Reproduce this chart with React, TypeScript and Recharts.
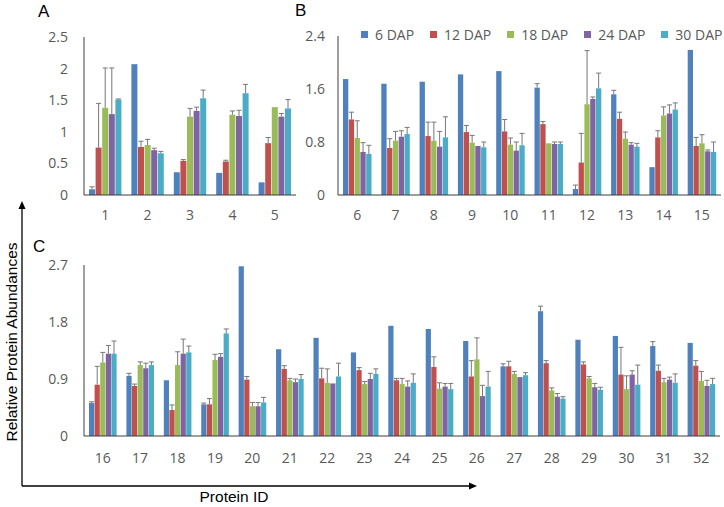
import React from 'react';
import { BarChart, Bar, XAxis, YAxis } from 'recharts';

// Protein IDs 1..32
const PROTEIN_IDS = ['1','2','3','4','5','6','7','8','9','10','11','12','13','14','15','16','17','18','19','20','21','22','23','24','25','26','27','28','29','30','31','32'];

const SERIES_NAMES = ['6 DAP', '12 DAP', '18 DAP', '24 DAP', '30 DAP'];
const SERIES_COLORS = ['#4F81BD', '#C0504D', '#9BBB59', '#8064A2', '#4BACC6'];

// Mean relative abundances per protein (index = protein id - 1)
const DAP6 = [0.09, 2.07, 0.36, 0.35, 0.20, 1.75, 1.68, 1.71, 1.82, 1.87, 1.62, 0.09, 1.52, 0.42, 2.19, 0.52, 0.95, 0.88, 0.50, 2.68, 1.37, 1.55, 1.32, 1.74, 1.69, 1.50, 1.10, 1.97, 1.52, 1.58, 1.42, 1.47];
const DAP12 = [0.75, 0.76, 0.54, 0.53, 0.82, 1.14, 0.71, 0.89, 0.95, 0.96, 1.07, 0.49, 1.15, 0.87, 0.74, 0.81, 0.79, 0.41, 0.50, 0.89, 1.06, 0.91, 1.04, 0.88, 1.09, 0.94, 1.10, 1.15, 1.13, 0.97, 1.03, 1.11];
const DAP18 = [1.38, 0.79, 1.24, 1.27, 1.39, 0.86, 0.82, 0.82, 0.79, 0.76, 0.78, 1.37, 0.85, 1.20, 0.78, 1.16, 1.12, 1.12, 1.20, 0.47, 0.88, 0.84, 0.82, 0.82, 0.75, 1.21, 0.98, 0.72, 0.91, 0.74, 0.85, 0.87];
const DAP24 = [1.28, 0.71, 1.33, 1.25, 1.24, 0.65, 0.88, 0.73, 0.74, 0.67, 0.77, 1.45, 0.76, 1.23, 0.66, 1.30, 1.07, 1.30, 1.25, 0.47, 0.85, 0.83, 0.90, 0.78, 0.78, 0.63, 0.93, 0.62, 0.77, 0.97, 0.89, 0.79];
const DAP30 = [1.51, 0.66, 1.53, 1.61, 1.37, 0.62, 0.92, 0.87, 0.72, 0.75, 0.77, 1.61, 0.73, 1.29, 0.65, 1.30, 1.12, 1.32, 1.62, 0.53, 0.90, 0.94, 0.98, 0.84, 0.74, 0.78, 0.96, 0.59, 0.73, 0.81, 0.84, 0.82];

// Upper error (standard deviation) per protein
const ERR6 = [0.04, 0, 0, 0, 0, 0, 0, 0, 0, 0, 0.06, 0.06, 0.06, 0, 0, 0.02, 0.04, 0, 0.02, 0, 0, 0, 0, 0, 0, 0, 0.04, 0.08, 0, 0, 0.07, 0];
const ERR12 = [0.70, 0.09, 0.02, 0.02, 0.09, 0.11, 0.14, 0.21, 0.10, 0.18, 0.04, 0.44, 0.10, 0.10, 0.13, 0.29, 0.03, 0.08, 0.09, 0.05, 0.05, 0.16, 0.04, 0.03, 0.16, 0.25, 0.08, 0.04, 0.04, 0.43, 0.09, 0.08];
const ERR18 = [0.63, 0.09, 0.13, 0.06, 0, 0.26, 0.14, 0.28, 0.11, 0.10, 0, 0.81, 0.10, 0.13, 0.13, 0.16, 0.05, 0.21, 0.09, 0.06, 0.03, 0.22, 0.04, 0.09, 0.09, 0.34, 0.04, 0.04, 0.03, 0.21, 0.06, 0.15];
const ERR24 = [0.73, 0.03, 0.06, 0.09, 0.05, 0.14, 0.09, 0.23, 0, 0.13, 0.03, 0.03, 0.03, 0.13, 0.02, 0.13, 0.08, 0.23, 0.05, 0.06, 0.05, 0, 0.09, 0.09, 0.05, 0.17, 0, 0.05, 0.06, 0.06, 0.04, 0.09];
const ERR30 = [0.01, 0.03, 0.13, 0.14, 0.14, 0.13, 0.10, 0.31, 0.08, 0.18, 0.03, 0.23, 0.05, 0.10, 0.15, 0.20, 0.05, 0.10, 0.07, 0.08, 0.07, 0.21, 0.08, 0.14, 0.09, 0.24, 0.04, 0.03, 0.04, 0.31, 0.14, 0.09];

const TICKS_A = [0, 0.5, 1, 1.5, 2, 2.5];
const TICKS_B = [0, 0.8, 1.6, 2.4];
const TICKS_C = [0, 0.9, 1.8, 2.7];

const VALUES = [DAP6, DAP12, DAP18, DAP24, DAP30];
const ERRORS = [ERR6, ERR12, ERR18, ERR24, ERR30];
const KEYS = ['d6', 'd12', 'd18', 'd24', 'd30'];

const buildRows = (from: number, to: number) =>
  PROTEIN_IDS.slice(from, to).map((id, k) => {
    const i = from + k;
    const row: any = { id };
    KEYS.forEach((key, s) => {
      row[key] = VALUES[s][i];
      row[key + 'e'] = ERRORS[s][i];
    });
    return row;
  });

const dataA = buildRows(0, 5);
const dataB = buildRows(5, 15);
const dataC = buildRows(15, 32);

const ERR_COLOR = '#777777';
const TICK_STYLE = { fontFamily: 'Open Sans', fontSize: 14, fill: '#595959' };

const makeShape = (valKey: string) => (props: any) => {
  const { x, y, width, height, fill, payload } = props;
  const v = payload[valKey];
  const e = payload[valKey + 'e'];
  const parts: any[] = [<rect key="r" x={x} y={y} width={width} height={height} fill={fill} />];
  if (e > 0 && v > 0 && height > 0) {
    const top = y - (e * height) / v;
    const cx = x + width / 2;
    parts.push(<line key="l" x1={cx} x2={cx} y1={y} y2={top} stroke={ERR_COLOR} strokeWidth={1} />);
    parts.push(<line key="c" x1={cx - 2.5} x2={cx + 2.5} y1={top} y2={top} stroke={ERR_COLOR} strokeWidth={1} />);
  }
  return <g>{parts}</g>;
};

const renderBars = (barSize: number) =>
  KEYS.map((key, s) => (
    <Bar
      key={key}
      dataKey={key}
      name={SERIES_NAMES[s]}
      fill={SERIES_COLORS[s]}
      barSize={barSize}
      isAnimationActive={false}
      shape={makeShape(key)}
    />
  ));

const LegendBox = () => (
  <div style={{ position: 'absolute', left: 361, top: 24.5, display: 'flex', alignItems: 'center', whiteSpace: 'nowrap' }}>
    {SERIES_NAMES.map((name, s) => (
      <div key={name} style={{ display: 'flex', alignItems: 'center', marginRight: s < SERIES_NAMES.length - 1 ? 16 : 0 }}>
        <div style={{ width: 7, height: 7, background: SERIES_COLORS[s], marginRight: 7 }} />
        <span style={{ fontFamily: 'Open Sans', fontSize: 14, color: '#595959', lineHeight: '19px' }}>{name}</span>
      </div>
    ))}
  </div>
);

const AXIS_COLOR = '#3f3f3f';

export default function App() {
  return (
    <div style={{ position: 'absolute', left: 0, top: 0, width: 724, height: 507, background: '#fff', overflow: 'hidden' }}>
      <svg width={724} height={507} style={{ position: 'absolute', left: 0, top: 0 }}>
        <line x1={22} y1={486} x2={22} y2={207} stroke="#000" strokeWidth={1.3} />
        <polygon points="22,201 18.5,209 25.5,209" fill="#000" />
        <line x1={22} y1={486} x2={470} y2={486} stroke="#000" strokeWidth={1.3} />
        <polygon points="477,486 469,482.5 469,489.5" fill="#000" />
        <text x={17} y={342} transform="rotate(-90 17 342)" textAnchor="middle" fontFamily="Liberation Sans" fontSize={15.5} fill="#000">
          Relative Protein Abundances
        </text>
        <text x={234} y={502} textAnchor="middle" fontFamily="Liberation Sans" fontSize={15.5} fill="#000">
          Protein ID
        </text>
        <text x={38} y={17} fontFamily="Liberation Sans" fontSize={17} fill="#000">A</text>
        <text x={295} y={16} fontFamily="Liberation Sans" fontSize={17} fill="#000">B</text>
        <text x={33} y={252} fontFamily="Liberation Sans" fontSize={17} fill="#000">C</text>
      </svg>

      <div style={{ position: 'absolute', left: 0, top: 0 }}>
        <BarChart width={300} height={235} data={dataA} margin={{ top: 37, right: 4, bottom: 0, left: 0 }} barGap={0.6}>
          <XAxis dataKey="id" interval={0} tickLine={false} tickSize={0} tickMargin={15} height={40} tick={TICK_STYLE} axisLine={{ stroke: AXIS_COLOR }} />
          <YAxis type="number" domain={[0, 2.5]} ticks={TICKS_A} width={84} tickLine={false} tickSize={0} tickMargin={16} tick={TICK_STYLE} axisLine={{ stroke: AXIS_COLOR }} />
          {renderBars(6)}
        </BarChart>
      </div>

      <div style={{ position: 'absolute', left: 250, top: 0 }}>
        <BarChart width={474} height={235} data={dataB} margin={{ top: 36, right: 3, bottom: 0, left: 0 }} barGap={0.5}>
          <XAxis dataKey="id" interval={0} tickLine={false} tickSize={0} tickMargin={15} height={40} tick={TICK_STYLE} axisLine={{ stroke: AXIS_COLOR }} />
          <YAxis type="number" domain={[0, 2.4]} ticks={TICKS_B} width={88} tickLine={false} tickSize={0} tickMargin={13} tick={TICK_STYLE} axisLine={{ stroke: AXIS_COLOR }} />
          {renderBars(5.3)}
        </BarChart>
      </div>

      <LegendBox />

      <div style={{ position: 'absolute', left: 0, top: 230 }}>
        <BarChart width={724} height={246} data={dataC} margin={{ top: 35, right: 4, bottom: 0, left: 0 }} barGap={0.4}>
          <XAxis dataKey="id" interval={0} tickLine={false} tickSize={0} tickMargin={17} height={40} tick={TICK_STYLE} axisLine={{ stroke: AXIS_COLOR }} />
          <YAxis type="number" domain={[0, 2.7]} ticks={TICKS_C} width={84} tickLine={false} tickSize={0} tickMargin={16} tick={TICK_STYLE} axisLine={{ stroke: AXIS_COLOR }} />
          {renderBars(5.2)}
        </BarChart>
      </div>
    </div>
  );
}
